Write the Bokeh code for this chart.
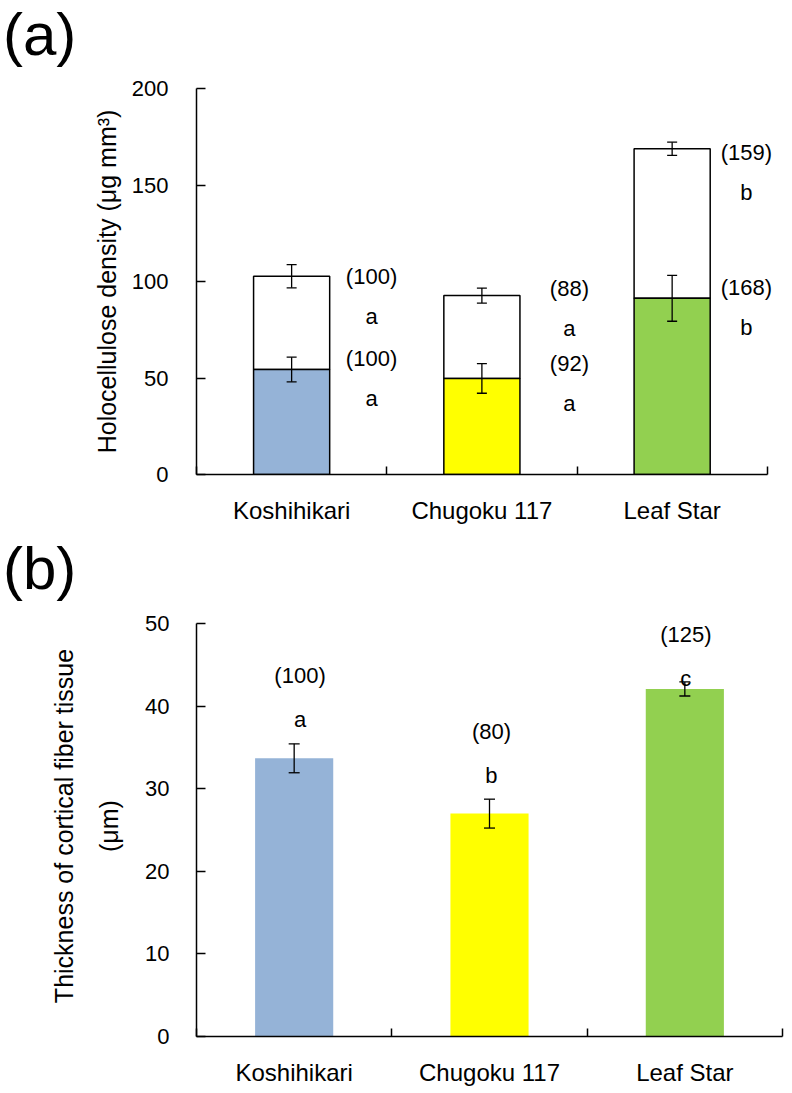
from bokeh.plotting import figure
from bokeh.models import ColumnDataSource, Whisker, TeeHead, FixedTicker, LinearAxis, Div, Range1d
from bokeh.layouts import column
from bokeh.core.properties import value
from bokeh.embed import file_html
from bokeh.resources import INLINE

# ---------------- data ----------------
categories = ["Koshihikari", "Chugoku 117", "Leaf Star"]
colors = ["#95B3D7", "#FFFF00", "#92D050"]

# panel (a): stacked holocellulose density
lower_vals = [54.4, 49.8, 91.3]
lower_err = [6.4, 7.7, 11.9]
upper_vals = [48.3, 42.9, 77.5]
upper_err = [6.0, 3.9, 3.4]
lower_pct = ["(100)", "(92)", "(168)"]
lower_sig = ["a", "a", "b"]
upper_pct = ["(100)", "(88)", "(159)"]
upper_sig = ["a", "a", "b"]
a_ticks = [0, 50, 100, 150, 200]

# panel (b): thickness of cortical fiber tissue
thick_vals = [33.7, 27.0, 42.1]
thick_err = [1.75, 1.75, 0.85]
thick_pct = ["(100)", "(80)", "(125)"]
thick_sig = ["a", "b", "c"]
b_ticks = [0, 10, 20, 30, 40, 50]

FONT = "Liberation Sans"
xs = [i + 0.5 for i in range(len(categories))]
totals = [l + u for l, u in zip(lower_vals, upper_vals)]


def style_axes(p, yticks, ylabel_standoff, ylabel_size="25px"):
    p.xaxis.ticker = FixedTicker(ticks=xs, minor_ticks=list(range(len(categories) + 1)))
    p.xaxis.major_label_overrides = {x: c for x, c in zip(xs, categories)}
    p.xaxis.major_tick_in = 0
    p.xaxis.major_tick_out = 0
    p.xaxis.minor_tick_in = 8
    p.xaxis.minor_tick_out = 0
    p.xaxis.minor_tick_line_color = "black"
    p.xaxis.minor_tick_line_width = 1.5
    p.xaxis.bounds = (0, len(categories))
    p.yaxis.ticker = FixedTicker(ticks=yticks)
    p.yaxis.major_tick_in = 9
    p.yaxis.major_tick_out = 0
    p.yaxis.minor_tick_line_color = None
    p.yaxis.bounds = (yticks[0], yticks[-1])
    for ax in (p.xaxis[0], p.yaxis[0]):
        ax.axis_line_color = "black"
        ax.axis_line_width = 1.5
        ax.major_tick_line_color = "black"
        ax.major_tick_line_width = 1.5
        ax.major_label_text_font = FONT
        ax.major_label_text_font_size = "22px"
        ax.major_label_text_color = "black"
        ax.axis_label_text_font = FONT
        ax.axis_label_text_font_size = ylabel_size
        ax.axis_label_text_font_style = "normal"
        ax.axis_label_text_color = "black"
    p.xaxis.major_label_text_font_size = "24px"
    p.yaxis.axis_label_standoff = ylabel_standoff
    p.grid.visible = False
    p.outline_line_color = None


# ---------------- panel (a) ----------------
pa = figure(width=792, height=466, output_backend="svg", toolbar_location=None,
            x_range=Range1d(0, 3.08), y_range=Range1d(0, 200),
            min_border_left=193, min_border_right=10, min_border_top=20, min_border_bottom=60,
            title=None)
style_axes(pa, a_ticks, 8)
pa.yaxis.major_label_standoff = 28
pa.xaxis.major_label_standoff = 22
pa.yaxis.axis_label = "Holocellulose density (μg mm³)"

src_a = ColumnDataSource(dict(x=xs, lower=lower_vals, total=totals, color=colors,
                              l_lo=[v - e for v, e in zip(lower_vals, lower_err)],
                              l_hi=[v + e for v, e in zip(lower_vals, lower_err)],
                              t_lo=[v - e for v, e in zip(totals, upper_err)],
                              t_hi=[v + e for v, e in zip(totals, upper_err)]))
pa.vbar(x="x", width=0.4, bottom="lower", top="total", source=src_a,
        fill_color="white", line_color="black", line_width=1.5)
pa.vbar(x="x", width=0.4, bottom=0, top="lower", source=src_a,
        fill_color="color", line_color="black", line_width=1.5)
for lo, hi in (("l_lo", "l_hi"), ("t_lo", "t_hi")):
    pa.add_layout(Whisker(base="x", lower=lo, upper=hi, source=src_a, line_width=1.3,
                          level="overlay",
                          upper_head=TeeHead(size=10, line_width=1.3),
                          lower_head=TeeHead(size=10, line_width=1.3)))

# annotation placement (data units)
a_lab_dx = [0.42, 0.46, 0.39]
a_up_y = [102.6, 96.4, 166.8]
a_lo_y = [60.1, 57.5, 96.9]
a_gap = 20.7
lab_x = [x + d for x, d in zip(xs, a_lab_dx)]
txt_kw = dict(text_font=value(FONT), text_font_size="22px", text_align="center",
              text_baseline="middle", text_color="black")
pa.text(x=lab_x, y=a_up_y, text=upper_pct, **txt_kw)
pa.text(x=lab_x, y=[y - a_gap for y in a_up_y], text=upper_sig, **txt_kw)
pa.text(x=lab_x, y=a_lo_y, text=lower_pct, **txt_kw)
pa.text(x=lab_x, y=[y - a_gap for y in a_lo_y], text=lower_sig, **txt_kw)

# ---------------- panel (b) ----------------
pb = figure(width=792, height=491, output_backend="svg", toolbar_location=None,
            x_range=Range1d(0, 3), y_range=Range1d(0, 51),
            min_border_left=196, min_border_right=8, min_border_top=13, min_border_bottom=57,
            title=None)
style_axes(pb, b_ticks, 19)
pb.yaxis.major_label_standoff = 27
pb.xaxis.major_label_standoff = 22
pb.yaxis.axis_label = "(μm)"
outer = LinearAxis(axis_label="Thickness of cortical fiber tissue", ticker=FixedTicker(ticks=[]),
                   axis_line_color=None, major_tick_line_color=None, minor_tick_line_color=None,
                   major_label_standoff=0, axis_label_standoff=15,
                   axis_label_text_font=FONT, axis_label_text_font_size="25px",
                   axis_label_text_font_style="normal", axis_label_text_color="black")
pb.add_layout(outer, "left")

src_b = ColumnDataSource(dict(x=xs, top=thick_vals, color=colors,
                              lo=[v - e for v, e in zip(thick_vals, thick_err)],
                              hi=[v + e for v, e in zip(thick_vals, thick_err)]))
pb.vbar(x="x", width=0.4, bottom=0, top="top", source=src_b,
        fill_color="color", line_color=None)
pb.add_layout(Whisker(base="x", lower="lo", upper="hi", source=src_b, line_width=1.3,
                      level="overlay",
                      upper_head=TeeHead(size=11, line_width=1.3),
                      lower_head=TeeHead(size=11, line_width=1.3)))
b_lab_dx = [0.03, 0.01, 0.005]
b_pct_y = [43.7, 36.9, 48.7]
b_gap = 5.3
bx = [x + d for x, d in zip(xs, b_lab_dx)]
pb.text(x=bx, y=b_pct_y, text=thick_pct, **txt_kw)
pb.text(x=bx, y=[y - b_gap for y in b_pct_y], text=thick_sig, **txt_kw)

# ---------------- panel letters ----------------
div_style = {"font-size": "60px", "font-family": FONT, "line-height": "normal",
             "color": "black", "padding-left": "3px"}
da = Div(text="(a)", width=300, height=68, margin=0, styles=div_style)
db = Div(text="(b)", width=300, height=68, margin=0, styles=div_style)

layout = column(da, pa, db, pb, spacing=0)
open("out.html", "w").write(file_html(layout, INLINE))
